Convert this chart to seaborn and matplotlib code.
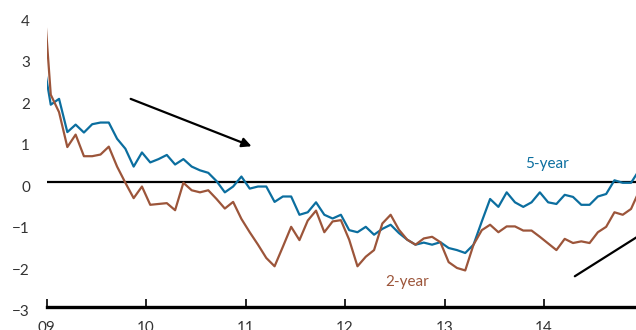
import numpy as np
import pandas as pd
import matplotlib
matplotlib.use("Agg")
import matplotlib.pyplot as plt
import matplotlib.transforms as mtransforms
import seaborn as sns

# monthly observations, Dec 2008 - Dec 2014 (first and last are clipped by the axes)
months = pd.date_range("2008-12-01", "2014-12-01", freq="MS")

five_year = [3.05,
             1.87, 2.01, 1.21, 1.39, 1.20, 1.40, 1.44, 1.44, 1.05, 0.81, 0.38, 0.72,
             0.48, 0.56, 0.66, 0.43, 0.56, 0.38, 0.29, 0.23, 0.03, -0.24, -0.10, 0.14,
             -0.15, -0.10, -0.10, -0.47, -0.34, -0.34, -0.78, -0.72, -0.48, -0.78, -0.87, -0.78,
             -1.15, -1.20, -1.07, -1.26, -1.12, -1.02, -1.22, -1.38, -1.50, -1.45, -1.50, -1.44,
             -1.58, -1.63, -1.70, -1.50, -0.94, -0.40, -0.59, -0.24, -0.48, -0.59, -0.48, -0.24,
             -0.48, -0.52, -0.30, -0.35, -0.54, -0.54, -0.34, -0.28, 0.05, -0.01, -0.01, 0.30]

two_year = [4.87,
            2.11, 1.69, 0.85, 1.15, 0.63, 0.63, 0.67, 0.86, 0.38, -0.01, -0.38, -0.10,
            -0.54, -0.52, -0.50, -0.67, -0.01, -0.19, -0.24, -0.19, -0.40, -0.63, -0.47, -0.88,
            -1.20, -1.50, -1.82, -2.02, -1.55, -1.07, -1.39, -0.92, -0.68, -1.20, -0.94, -0.91,
            -1.38, -2.02, -1.79, -1.63, -0.99, -0.78, -1.14, -1.38, -1.50, -1.35, -1.31, -1.44,
            -1.92, -2.06, -2.12, -1.50, -1.15, -1.02, -1.20, -1.06, -1.06, -1.16, -1.16, -1.31,
            -1.47, -1.63, -1.36, -1.46, -1.42, -1.46, -1.20, -1.07, -0.72, -0.78, -0.64, -0.20]

series_names = ["5-year", "2-year"]
colors = {"5-year": "#0b6e9f", "2-year": "#9c553a"}
year_ticks = [2009, 2010, 2011, 2012, 2013, 2014]
year_labels = ["09", "10", "11", "12", "13", "14"]
y_ticks = [-3, -2, -1, 0, 1, 2, 3, 4]

# annotation arrows (start, end) in (year, value)
arrows = [((2009.845, 2.01), (2011.06, 0.87)),
          ((2014.31, -2.26), (2015.15, -0.99))]

x = months.year + (months.month - 0.5) / 12
df = pd.DataFrame({"x": np.concatenate([x, x]),
                   "value": five_year + two_year,
                   "series": ["5-year"] * len(x) + ["2-year"] * len(x)})

sns.set_style("white")
plt.rcParams["font.family"] = ["Lato", "DejaVu Sans"]

fig = plt.figure(figsize=(6.36, 3.30), dpi=100)
ax = fig.add_axes([0.0733, 0.0697, 0.9267, 0.9303])

sns.lineplot(data=df, x="x", y="value", hue="series", hue_order=series_names,
             palette=colors, linewidth=1.6, legend=False, ax=ax)

ax.axhline(0, color="black", linewidth=1.6, zorder=1)

ax.set_xlim(2009.0, 2014.925)
ax.set_ylim(-3, 4.39)
ax.set_xticks(year_ticks)
ax.set_xticklabels(year_labels)
ax.set_yticks(y_ticks)
ax.set_xlabel("")
ax.set_ylabel("")

for side in ["top", "right", "left"]:
    ax.spines[side].set_visible(False)
ax.spines["bottom"].set_linewidth(2.4)
ax.spines["bottom"].set_color("black")

ax.tick_params(axis="x", bottom=True, direction="in", length=5.5, width=1.2,
               color="black", pad=10, labelsize=11, labelcolor="#333333")
ax.tick_params(axis="y", left=False, length=0, pad=12, labelsize=11,
               labelcolor="#333333")

# y labels sit a little below their gridline in the original
shift = mtransforms.ScaledTranslation(0, -4 / 100, fig.dpi_scale_trans)
for lab in ax.get_yticklabels():
    lab.set_transform(lab.get_transform() + shift)

ax.text(2014.03, 0.45, "5-year", color=colors["5-year"], fontsize=11,
        ha="center", va="center")
ax.text(2012.62, -2.39, "2-year", color=colors["2-year"], fontsize=11,
        ha="center", va="center")

for start, end in arrows:
    ax.annotate("", xy=end, xytext=start, annotation_clip=False,
                arrowprops=dict(arrowstyle="-|>", color="black", lw=1.6,
                                mutation_scale=14, shrinkA=0, shrinkB=0))

fig.savefig("out.png", dpi=100)
